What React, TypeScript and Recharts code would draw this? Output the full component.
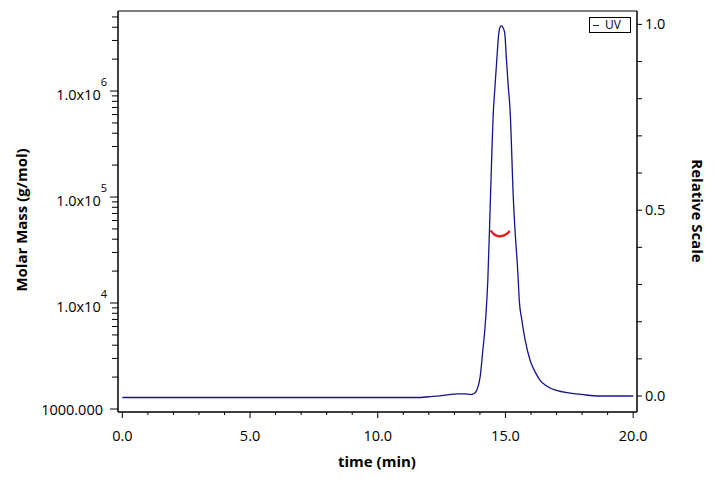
import React from 'react';
import { ComposedChart, Line, Scatter, XAxis, YAxis, ReferenceArea, Legend } from 'recharts';

// UV trace (time in min, relative scale)
const uvTime = [
  0, 2, 4, 6, 8, 10, 11.5, 12.0, 12.5, 12.8, 13.1, 13.4, 13.65, 13.8, 13.88, 14.01, 14.11, 14.2,
  14.27, 14.31, 14.41, 14.53, 14.59, 14.66, 14.74, 14.79, 14.84, 14.89, 14.97, 15.04, 15.11,
  15.18, 15.31, 15.5, 15.54, 15.64, 15.77, 15.96, 16.16, 16.35, 16.61, 17.0, 17.53, 18.05, 18.7,
  19.4, 20.0,
];
const uvValue = [
  -0.004, -0.004, -0.004, -0.004, -0.004, -0.004, -0.004, -0.002, 0.001, 0.004, 0.006, 0.006, 0.004,
  0.008, 0.016, 0.052, 0.12, 0.185, 0.258, 0.312, 0.528, 0.77, 0.833, 0.904, 0.977, 0.993, 0.996,
  0.993, 0.977, 0.904, 0.833, 0.77, 0.528, 0.312, 0.258, 0.205, 0.151, 0.097, 0.065, 0.043, 0.027,
  0.015, 0.008, 0.0035, 0.0, 0.0, 0.0,
];

// molar mass points across the peak
const mmTime = [14.44, 14.49, 14.54, 14.59, 14.64, 14.69, 14.74, 14.79, 14.84, 14.89, 14.94, 14.99, 15.04, 15.09, 15.14];
const mmValue = [47500, 46000, 44800, 43900, 43300, 42900, 42700, 42700, 42800, 43000, 43400, 44000, 44800, 45800, 47000];

const xTicks = [0, 1, 2, 3, 4, 5, 6, 7, 8, 9, 10, 11, 12, 13, 14, 15, 16, 17, 18, 19, 20];
const leftTicks = [
  1000, 2000, 3000, 4000, 5000, 6000, 7000, 8000, 9000,
  10000, 20000, 30000, 40000, 50000, 60000, 70000, 80000, 90000,
  100000, 200000, 300000, 400000, 500000, 600000, 700000, 800000, 900000,
  1000000, 2000000, 3000000, 4000000, 5000000,
];
const rightTicks = [0, 0.1, 0.2, 0.3, 0.4, 0.5, 0.6, 0.7, 0.8, 0.9, 1.0];

const X_DOMAIN = [-0.17, 20.15];
const LEFT_DOMAIN = [937, 5690000];
const RIGHT_DOMAIN = [-0.043, 1.036];

const uvData = uvTime.map((t, i) => ({ t, uv: uvValue[i] }));
const mmData = mmTime.map((t, i) => ({ t, mm: mmValue[i] }));

const FONT = '"Open Sans", "Noto Sans", sans-serif';

const XTick = (props: any) => {
  const { x, y, payload } = props;
  const v = payload.value;
  const major = v % 5 === 0;
  return (
    <g>
      <line x1={x} x2={x} y1={y} y2={y + (major ? 6 : 3)} stroke="#000" />
      {major && (
        <text x={x} y={y + 29} textAnchor="middle" fontSize={14.5} fontFamily={FONT} fill="#000">
          {v.toFixed(1)}
        </text>
      )}
    </g>
  );
};

const LeftTick = (props: any) => {
  const { x, y, payload } = props;
  const v = payload.value;
  const lg = Math.log10(v);
  const major = Math.abs(lg - Math.round(lg)) < 1e-6;
  let label = null;
  if (major && v === 1000) {
    label = (
      <text x={x - 15} y={y + 6} textAnchor="end" fontSize={14.5} fontFamily={FONT} fill="#000">1000.000</text>
    );
  } else if (major) {
    label = (
      <text x={x - 11} y={y + 9} textAnchor="end" fontSize={14.5} fontFamily={FONT} fill="#000">
        1.0x10
        <tspan dy={-14} fontSize={11}>{Math.round(lg)}</tspan>
      </text>
    );
  }
  return (
    <g>
      <line x1={x - (major ? 8 : 6)} x2={x} y1={y} y2={y} stroke="#000" />
      {label}
    </g>
  );
};

const RightTick = (props: any) => {
  const { x, y, payload } = props;
  const v = payload.value;
  const major = Math.abs(v * 2 - Math.round(v * 2)) < 1e-9;
  return (
    <g>
      <line x1={x} x2={x + 5} y1={y} y2={y} stroke="#000" />
      {major && (
        <text x={x + 8} y={y + 5} textAnchor="start" fontSize={14.5} fontFamily={FONT} fill="#000">
          {v.toFixed(1)}
        </text>
      )}
    </g>
  );
};

const titleStyle = { fontSize: 15, fontWeight: 700, fontFamily: FONT, fill: '#000' };

const UvLegend = () => (
  <div
    style={{
      border: '1px solid #000',
      width: 42,
      height: 16,
      boxSizing: 'border-box',
      background: '#fff',
      fontFamily: FONT,
      fontSize: 12,
      lineHeight: '14px',
      display: 'flex',
      alignItems: 'center',
    }}
  >
    <span style={{ display: 'inline-block', width: 6, height: 1, background: '#14148c', marginLeft: 3, marginRight: 6 }} />
    <span style={{ color: '#000' }}>UV</span>
  </div>
);

export default function App() {
  return (
    <div style={{ position: 'absolute', left: 0, top: 0, width: 720, height: 479, background: '#fff' }}>
      <ComposedChart width={720} height={479} data={uvData} margin={{ top: 11, right: 23, bottom: 27, left: 18 }}>
        <ReferenceArea
          x1={X_DOMAIN[0]}
          x2={X_DOMAIN[1]}
          y1={RIGHT_DOMAIN[0]}
          y2={RIGHT_DOMAIN[1]}
          yAxisId="right"
          fill="none"
          stroke="#000"
          strokeWidth={1}
        />
        <XAxis
          type="number"
          dataKey="t"
          domain={X_DOMAIN}
          ticks={xTicks}
          interval={0}
          allowDataOverflow
          height={40}
          tickSize={0}
          tickMargin={0}
          tickLine={false}
          tick={<XTick />}
          axisLine={{ stroke: '#000' }}
          label={() => (
            <text x={377} y={467} textAnchor="middle" style={titleStyle}>time (min)</text>
          )}
        />
        <YAxis
          yAxisId="left"
          orientation="left"
          scale="log"
          type="number"
          domain={LEFT_DOMAIN}
          ticks={leftTicks}
          interval={0}
          allowDataOverflow
          width={100}
          tickSize={0}
          tickMargin={0}
          tickLine={false}
          tick={<LeftTick />}
          axisLine={{ stroke: '#000' }}
          label={() => (
            <text x={21} y={220} transform="rotate(-90 21 220)" textAnchor="middle" dominantBaseline="central" style={titleStyle}>
              Molar Mass (g/mol)
            </text>
          )}
        />
        <YAxis
          yAxisId="right"
          orientation="right"
          type="number"
          domain={RIGHT_DOMAIN}
          ticks={rightTicks}
          interval={0}
          allowDataOverflow
          width={60}
          tickSize={0}
          tickMargin={0}
          tickLine={false}
          tick={<RightTick />}
          axisLine={{ stroke: '#000' }}
          label={() => (
            <text x={698} y={211} transform="rotate(90 698 211)" textAnchor="middle" dominantBaseline="central" style={titleStyle}>
              Relative Scale
            </text>
          )}
        />
        <Line
          yAxisId="right"
          type="monotone"
          dataKey="uv"
          stroke="#14148c"
          strokeWidth={1.3}
          dot={false}
          activeDot={false}
          isAnimationActive={false}
        />
        <Scatter
          yAxisId="left"
          data={mmData}
          dataKey="mm"
          fill="#e0201b"
          isAnimationActive={false}
          shape={(p: any) => <circle cx={p.cx} cy={p.cy} r={1.3} fill="#e0201b" />}
        />
        <Legend
          layout="horizontal"
          verticalAlign="middle"
          align="center"
          content={<UvLegend />}
          wrapperStyle={{ position: 'absolute', left: 589, top: 17, width: 42, height: 16 }}
        />
      </ComposedChart>
    </div>
  );
}
